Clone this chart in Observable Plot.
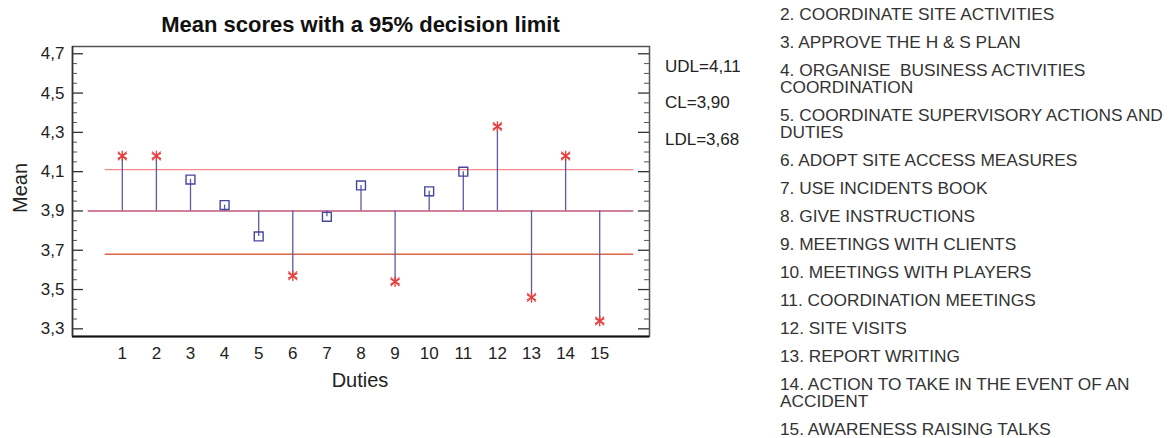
<!DOCTYPE html>
<html>
<head>
<meta charset="utf-8">
<script src="https://cdn.jsdelivr.net/npm/d3@7"></script>
<script src="https://cdn.jsdelivr.net/npm/@observablehq/plot@0.6"></script>
<style>
  html, body { margin: 0; padding: 0; background: #fff; }
  #wrap { position: relative; width: 1172px; height: 438px; font-family: "Liberation Sans", Arial, sans-serif; color: #222; overflow: hidden; }
  #chart { position: absolute; left: 0; top: 0; }
  .abs { position: absolute; white-space: pre; }
  #title { left: 0; width: 721px; top: 12px; text-align: center; font-weight: bold; font-size: 22px; line-height: 26px; color: #111; }
  #ylab { left: 20px; top: 188px; font-size: 20px; transform: translate(-50%, -50%) rotate(-90deg); color: #222; }
  #xlab { left: 360px; top: 380px; font-size: 20px; transform: translate(-50%, -50%); color: #222; }
  .lim { left: 665px; font-size: 17px; line-height: 20px; transform: translateY(-50%); color: #222; }
  #legend { left: 780px; top: 6px; font-size: 17.3px; line-height: 17px; color: #333; }
  #legend .item { margin-bottom: 11px; white-space: pre; }
</style>
</head>
<body>
<div id="wrap">
  <div id="chart"></div>
  <div id="title" class="abs"></div>
  <div id="ylab" class="abs"></div>
  <div id="xlab" class="abs"></div>
  <div id="legend" class="abs"></div>
</div>
<script>
// ---- data ----
const duties = [1, 2, 3, 4, 5, 6, 7, 8, 9, 10, 11, 12, 13, 14, 15];
const means  = [4.18, 4.18, 4.06, 3.93, 3.77, 3.57, 3.87, 4.03, 3.54, 4.00, 4.10, 4.33, 3.46, 4.18, 3.34];
const limitNames  = ["UDL", "CL", "LDL"];
const limitValues = [4.11, 3.90, 3.68];
const limitLabels = ["UDL=4,11", "CL=3,90", "LDL=3,68"];
const yTicks = [3.3, 3.5, 3.7, 3.9, 4.1, 4.3, 4.5, 4.7];
const xTicks = [1, 2, 3, 4, 5, 6, 7, 8, 9, 10, 11, 12, 13, 14, 15];
const titleText = "Mean scores with a 95% decision limit";
const xTitle = "Duties";
const yTitle = "Mean";
const dutyNames = [
  ["2. COORDINATE SITE ACTIVITIES"],
  ["3. APPROVE THE H & S PLAN"],
  ["4. ORGANISE  BUSINESS ACTIVITIES", "COORDINATION"],
  ["5. COORDINATE SUPERVISORY ACTIONS AND", "DUTIES"],
  ["6. ADOPT SITE ACCESS MEASURES"],
  ["7. USE INCIDENTS BOOK"],
  ["8. GIVE INSTRUCTIONS"],
  ["9. MEETINGS WITH CLIENTS"],
  ["10. MEETINGS WITH PLAYERS"],
  ["11. COORDINATION MEETINGS"],
  ["12. SITE VISITS"],
  ["13. REPORT WRITING"],
  ["14. ACTION TO TAKE IN THE EVENT OF AN", "ACCIDENT"],
  ["15. AWARENESS RAISING TALKS"]
];

// ---- derived ----
const [UDL, CL, LDL] = limitValues;
const rows = duties.map((d, i) => ({duty: d, mean: means[i], out: means[i] > UDL || means[i] < LDL}));
const inside = rows.filter(d => !d.out);
const outside = rows.filter(d => d.out);
const minorTicks = d3.range(0, 29).map(i => +(3.3 + i * 0.05).toFixed(2)).filter(v => !yTicks.some(t => Math.abs(t - v) < 1e-6));
const yDomain = [3.261, 4.737];
const fmt = d => d.toFixed(1).replace(".", ",");

const W = 720, H = 438, mL = 72, mR = 71, mT = 46, mB = 102;
const innerW = W - mL - mR;

const chart = Plot.plot({
  width: W, height: H,
  marginLeft: mL, marginRight: mR, marginTop: mT, marginBottom: mB,
  style: {fontFamily: '"Liberation Sans", Arial, sans-serif', fontSize: "17px", color: "#222", background: "white", overflow: "visible"},
  x: {domain: [-0.46, 16.46], axis: null},
  y: {domain: yDomain, axis: null},
  marks: [
    Plot.ruleY([UDL], {x1: 0.5, x2: 16, stroke: "#f78a8a", strokeWidth: 1.3}),
    Plot.ruleY([LDL], {x1: 0.5, x2: 16, stroke: "#d8664a", strokeWidth: 1.4}),
    Plot.ruleY([CL], {x1: 0, x2: 16, stroke: "#c4567c", strokeWidth: 1.6}),
    Plot.ruleX(rows, {x: "duty", y1: CL, y2: "mean", stroke: "#5a5aa8", strokeWidth: 1.3}),
    Plot.dot(inside, {x: "duty", y: "mean", symbol: "square", r: 5, stroke: "#4646a0", strokeWidth: 1.4, fill: "none"}),
    Plot.dot(outside, {x: "duty", y: "mean", symbol: "asterisk", r: 5, stroke: "#e83c3c", strokeWidth: 1.3}),
    Plot.dot(outside, {x: "duty", y: "mean", symbol: "times", r: 4, stroke: "#e83c3c", strokeWidth: 1.1}),
    // inward ticks, left and right
    Plot.tickY(yTicks, {stroke: "#333", strokeWidth: 1.3, insetRight: innerW - 11}),
    Plot.tickY(minorTicks, {stroke: "#555", strokeWidth: 1, insetRight: innerW - 5}),
    Plot.tickY(yTicks, {stroke: "#333", strokeWidth: 1.3, insetLeft: innerW - 11}),
    Plot.tickY(minorTicks, {stroke: "#555", strokeWidth: 1, insetLeft: innerW - 5}),
    Plot.frame({stroke: "#555", strokeWidth: 1.5}),
    Plot.ruleY([yDomain[0]], {stroke: "#111", strokeWidth: 2.2}),
    Plot.ruleX([-0.46], {stroke: "#333", strokeWidth: 1.5}),
    Plot.axisY(yTicks, {anchor: "left", tickSize: 0, tickPadding: 8, tickFormat: fmt, label: null, fill: "#222"}),
    Plot.axisX(xTicks, {anchor: "bottom", tickSize: 0, tickPadding: 10, label: null, fill: "#222"})
  ]
});
document.getElementById("chart").appendChild(chart);

document.getElementById("title").textContent = titleText;
document.getElementById("ylab").textContent = yTitle;
document.getElementById("xlab").textContent = xTitle;

const limTops = [66.5, 103.3, 139.8];
const wrap = document.getElementById("wrap");
limitLabels.forEach((t, i) => {
  const el = document.createElement("div");
  el.className = "abs lim";
  el.style.top = limTops[i] + "px";
  el.textContent = t;
  wrap.appendChild(el);
});

const legend = document.getElementById("legend");
dutyNames.forEach(lines => {
  const el = document.createElement("div");
  el.className = "item";
  el.textContent = lines.join("\n");
  legend.appendChild(el);
});
</script>
</body>
</html>
